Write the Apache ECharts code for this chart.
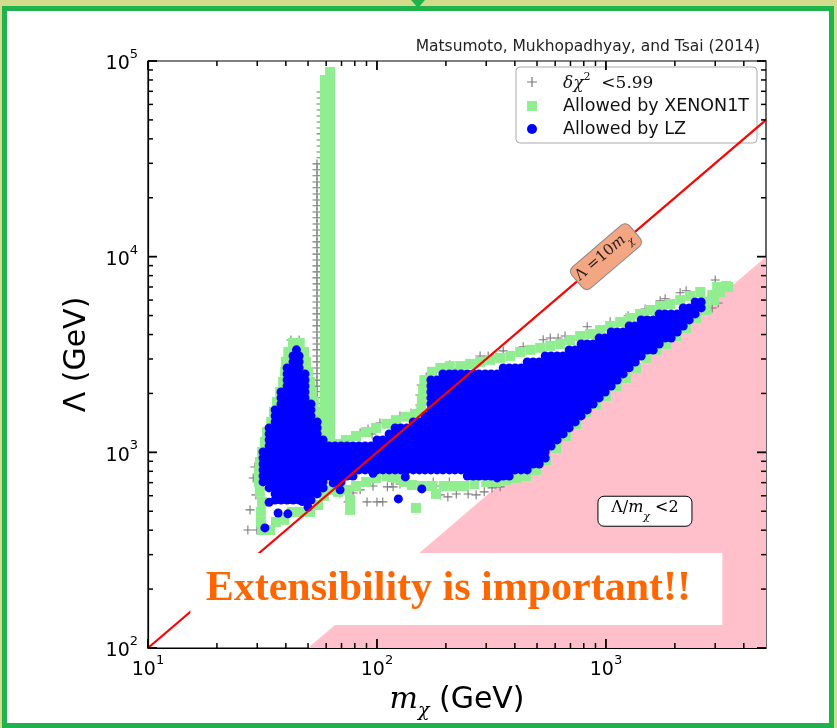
<!DOCTYPE html>
<html><head><meta charset="utf-8">
<script src="https://cdn.jsdelivr.net/npm/echarts@6/dist/echarts.min.js"></script>
<style>html,body{margin:0;padding:0;background:#fff}#c{width:837px;height:728px}</style>
</head><body><div id="c"></div>
<script>
// ---------- axes ----------
const xRange = [10, 5000];
const yRange = [100, 100000];
const xMajorTicks = [10, 100, 1000];
const xMinorTicks = [20, 30, 40, 50, 60, 70, 80, 90, 200, 300, 400, 500, 600, 700, 800, 900, 2000, 3000, 4000];
const yMajorTicks = [100, 1000, 10000, 100000];
const yMinorTicks = [200, 300, 400, 500, 600, 700, 800, 900, 2000, 3000, 4000, 5000, 6000, 7000, 8000, 9000, 20000, 30000, 40000, 50000, 60000, 70000, 80000, 90000];

// ---------- reference lines / regions ----------
const tenLine = [[10, 100], [5000, 50000]];            // Lambda = 10 m
const pinkRegion = [[50, 100], [5000, 10000], [5000, 100]]; // Lambda/m < 2
const lineLabelAt = [1000, 10000];
const ratioLabelAt = [1480, 500];
const bannerAt = [220, 200];

// ---------- series names ----------
const chiName = 'dchi2';
const xenonName = 'Allowed by XENON1T';
const lzName = 'Allowed by LZ';

// ---------- delta chi^2 < 5.99 (grey crosses) ----------
const chiColUpperM = 57.0;
const chiColUpperL = [69400, 64700, 60300, 56200, 52400, 48800, 45500, 42400, 39500, 36800, 34300, 32000];
const chiColLowerM = 54.7;
const chiColLowerL = [29800, 27800, 25900, 24100, 22500, 20900, 19500, 18200, 16900, 15800, 14700, 13700, 12800, 11900, 11100, 10300, 9620, 8970, 8360, 7790, 7260, 6760, 6300, 5870, 5470, 5100, 4750, 4430, 4120, 3840, 3580, 3340, 3110, 2900, 2700, 2520, 2340, 2180, 2040, 1900, 1770, 1650, 1530, 1430, 1330, 1240, 1160];
const chiFringe = [
 [42.1,3750],[45.7,3750],[38.1,2010],[37.3,1850],[34.8,1227],[33.4,1090],[29.3,842],[28.8,740],[29.6,606],[27.9,508],[27.3,401],[29.9,401],
 [69,620],[74.8,558],[78.6,620],[84.4,643],[90.5,558],[100,558],[106,558],[96.1,673],[111,666],[117.6,666],[116,714],[126,689],[137,706],[176,706],[190,673],[207,706],[224,673],[189,606],[204,592],[222,613],[250,613],[271,606],[294,628],[318,658],[345,666],
 [72.5,1157],[77.8,1213],[84.4,1256],[91.4,1317],[95.2,1242],[103,1413],[117.6,1460],[126,1535],[141,1590],[154,1965],[156,2210],[154,1747],[164,2430],[181,2575],[208,2800],[224,2670],[282,3110],[306,3110],[321,3040],[356,3300],[435,3460],[532,3760],[571,3840],[618,3840],[663,3930],[828,4380],[1043,4650],[1250,4990],[1483,5400],[1724,5950],[1814,6090],[2108,6540],[2240,6690],[3000,7600],[2910,5468],[3092,5800]
];

// ---------- allowed by XENON1T (green squares) ----------
const xenonColAM = 62.4;
const xenonColAL = [87900, 80000, 72800, 66300, 60300, 54900, 50000, 45500, 41400, 37700, 34300, 31200, 28400, 25900, 23500, 21400, 19500, 17700, 16100, 14700, 13400, 12200, 11100, 10100, 9180, 8350, 7600, 6920, 6300, 5730, 5220, 4750, 4320, 3930, 3580, 3260, 2970, 2700, 2460, 2240, 2040, 1850, 1690, 1540, 1400, 1270, 1160];
const xenonColBM = 59.3;
const xenonColBL = [80000, 72800, 66300, 60300, 54900, 50000, 45500, 41400, 37700, 34300, 31200, 28400, 25900, 23500, 21400, 19500, 17700, 16100, 14700, 13400, 12200, 11100, 10100, 9180, 8350, 7600, 6920, 6300, 5730, 5220, 4750, 4320, 3930, 3580, 3260, 2970, 2700, 2460, 2240, 2040, 1850, 1690, 1540, 1400, 1270, 1160];
const xenonFringe = [
 [43,3620],[46,3620],[41,3260],[48,3260],[40,2900],[49,2900],[39.7,2580],[50,2580],[38.9,2290],[51,2290],[37.8,2035],[52,2035],[36.6,1810],[53,1810],[35.5,1610],[54.7,1610],[34.5,1430],[55.8,1430],[33.1,1270],[32.4,1130],[31.5,1005],[30.8,893],[30.5,794],[30.5,706],[30.8,628],[31.5,558],[31.1,496],[31.1,441],[31.5,401],[34.1,401],[36.2,441],[39.3,452],[42.6,496],[46.1,496],[51,496],[55.3,538],[58.7,599],[62.4,643],[67.6,628],[74,643],[76.3,571],[76.3,508],[81,673],
 [89.6,706],[99,740],[110,757],[121,740],[131,706],[142,681],[157,673],[174,673],[181,613],[148,520],[196,673],[217,673],[240,673],[266,689],[300,706],[331,706],[366,723],[405,740],[448,757],[496,813],[548,914],[606,1053],[670,1213],[741,1397],[819,1609],[906,1767],[1000,1940],[1110,2180],[1225,2400],[1355,2700],[1500,3040],[1657,3340],[1832,3580],[2026,3930],[2240,4320],[2477,4860],[2740,5340],[2970,6010],[3150,6600],[3350,7090],[3060,7000],[3420,7000],[2910,6360],[2685,5870],
 [2580,6600],[2330,6300],[2110,6010],[1907,5730],[1724,5600],[1559,5340],[1410,5100],[1275,4860],[1153,4640],[1043,4425],[943,4220],[853,4030],[771,3930],[698,3750],[631,3580],[571,3500],[516,3420],[467,3340],[422,3260],[382,3110],[345,3040],[312,2970],[282,2900],[255,2830],[231,2760],[208,2760],[189,2700],[174,2580],[161,2340],[159,2080],[157,1850],[156,1650],[147,1570],[134,1520],[121,1460],[110,1400],[99,1333],[89.6,1270],[81,1213],[73.3,1157],[67.6,1104]
];

// ---------- allowed by LZ (blue dots), rows: [Lambda, m, m, ...] ----------
const lzPeakRows = [
 [3340, 44.5],
 [3110, 43.0, 45.7],
 [2900, 43.0, 45.7],
 [2700, 40.5, 43.0, 45.7],
 [2516, 40.5, 43.0, 45.7, 48.5],
 [2344, 40.5, 43.0, 45.7, 48.5],
 [2184, 40.5, 43.0, 45.7, 48.5],
 [2035, 38.1, 40.5, 43.0, 45.7, 48.5],
 [1897, 38.1, 40.5, 43.0, 45.7, 48.5],
 [1767, 38.1, 40.5, 43.0, 45.7, 48.5, 51.5],
 [1647, 35.9, 38.1, 40.5, 43.0, 45.7, 48.5, 51.5],
 [1535, 35.9, 38.1, 40.5, 43.0, 45.7, 48.5, 51.5],
 [1430, 35.9, 38.1, 40.5, 43.0, 45.7, 48.5, 51.5, 54.8],
 [1333, 33.8, 35.9, 38.1, 40.5, 43.0, 45.7, 48.5, 51.5, 54.8],
 [1242, 33.8, 35.9, 38.1, 40.5, 43.0, 45.7, 48.5, 51.5, 54.8],
 [1157, 33.8, 35.9, 38.1, 40.5, 43.0, 45.7, 48.5, 51.5, 54.8, 58.2],
 [1078, 33.8, 35.9, 38.1, 40.5, 43.0, 45.7, 48.5, 51.5, 54.8, 58.2, 61.8, 65.6, 69.7, 74.0],
 [1005, 31.8, 33.8, 35.9, 38.1, 40.5, 43.0, 45.7, 48.5, 51.5, 54.8, 58.2, 61.8, 65.6],
 [936, 31.8, 33.8, 35.9, 38.1, 40.5, 43.0, 45.7, 48.5, 51.5, 54.8, 58.2, 61.8, 65.6],
 [872, 31.8, 33.8, 35.9, 38.1, 40.5, 43.0, 45.7, 48.5, 51.5, 54.8, 58.2, 61.8, 65.6, 69.7],
 [813, 31.8, 33.8, 35.9, 38.1, 40.5, 43.0, 45.7, 48.5, 51.5, 54.8, 58.2, 61.8, 65.6],
 [757, 31.8, 33.8, 35.9, 38.1, 40.5, 43.0, 45.7, 48.5, 51.5, 54.8, 58.2, 61.8],
 [706, 31.8, 33.8, 35.9, 38.1, 40.5, 43.0, 45.7, 48.5, 51.5, 54.8, 58.2],
 [658, 33.8, 35.9, 38.1, 40.5, 43.0, 45.7, 48.5, 51.5, 54.8, 58.2],
 [613, 35.9, 38.1, 40.5, 43.0, 45.7, 48.5, 51.5, 54.8],
 [571, 35.9, 38.1, 40.5, 43.0, 45.7, 48.5, 51.5]
];
const lzBandRows = [
 [5870, 2453, 2606],
 [5470, 2175, 2310, 2453, 2606],
 [5100, 1708, 1814, 1927, 2047, 2175, 2310, 2453],
 [4750, 1425, 1514, 1608, 1708, 1814, 1927, 2047, 2175, 2310],
 [4425, 1263, 1342, 1425, 1514, 1608, 1708, 1814, 1927, 2047, 2175],
 [4123, 1054, 1119, 1189, 1263, 1342, 1425, 1514, 1608, 1708, 1814, 1927, 2047],
 [3842, 934, 992, 1054, 1119, 1189, 1263, 1342, 1425, 1514, 1608, 1708, 1814, 1927],
 [3580, 779, 828, 879, 934, 992, 1054, 1119, 1189, 1263, 1342, 1425, 1514, 1608, 1708],
 [3336, 691, 734, 779, 828, 879, 934, 992, 1054, 1119, 1189, 1263, 1342, 1425, 1514, 1608],
 [3109, 543, 576, 612, 650, 691, 734, 779, 828, 879, 934, 992, 1054, 1119, 1189, 1263, 1342, 1425],
 [2897, 453, 481, 511, 543, 576, 612, 650, 691, 734, 779, 828, 879, 934, 992, 1054, 1119, 1189, 1263, 1342],
 [2700, 356, 378, 401, 426, 453, 481, 511, 543, 576, 612, 650, 691, 734, 779, 828, 879, 934, 992, 1054, 1119, 1189, 1263],
 [2516, 194, 207, 219, 233, 248, 263, 279, 297, 315, 335, 356, 378, 401, 426, 453, 481, 511, 543, 576, 612, 650, 691, 734, 779, 828, 879, 934, 992, 1054, 1119, 1189],
 [2344, 172, 183, 194, 207, 219, 233, 248, 263, 279, 297, 315, 335, 356, 378, 401, 426, 453, 481, 511, 543, 576, 612, 650, 691, 734, 779, 828, 879, 934, 992, 1054, 1119],
 [2184, 172, 183, 194, 207, 219, 233, 248, 263, 279, 297, 315, 335, 356, 378, 401, 426, 453, 481, 511, 543, 576, 612, 650, 691, 734, 779, 828, 879, 934, 992, 1054],
 [2035, 172, 183, 194, 207, 219, 233, 248, 263, 279, 297, 315, 335, 356, 378, 401, 426, 453, 481, 511, 543, 576, 612, 650, 691, 734, 779, 828, 879, 934, 992],
 [1897, 172, 183, 194, 207, 219, 233, 248, 263, 279, 297, 315, 335, 356, 378, 401, 426, 453, 481, 511, 543, 576, 612, 650, 691, 734, 779, 828, 879, 934],
 [1767, 172, 183, 194, 207, 219, 233, 248, 263, 279, 297, 315, 335, 356, 378, 401, 426, 453, 481, 511, 543, 576, 612, 650, 691, 734, 779, 828, 879],
 [1647, 172, 183, 194, 207, 219, 233, 248, 263, 279, 297, 315, 335, 356, 378, 401, 426, 453, 481, 511, 543, 576, 612, 650, 691, 734, 779, 828],
 [1535, 162, 172, 183, 194, 207, 219, 233, 248, 263, 279, 297, 315, 335, 356, 378, 401, 426, 453, 481, 511, 543, 576, 612, 650, 691, 734, 779],
 [1430, 144, 153, 162, 172, 183, 194, 207, 219, 233, 248, 263, 279, 297, 315, 335, 356, 378, 401, 426, 453, 481, 511, 543, 576, 612, 650, 691, 734],
 [1333, 120, 127, 135, 144, 153, 162, 172, 183, 194, 207, 219, 233, 248, 263, 279, 297, 315, 335, 356, 378, 401, 426, 453, 481, 511, 543, 576, 612, 650, 691],
 [1242, 113, 120, 127, 135, 144, 153, 162, 172, 183, 194, 207, 219, 233, 248, 263, 279, 297, 315, 335, 356, 378, 401, 426, 453, 481, 511, 543, 576, 612, 650],
 [1157, 100, 106, 113, 120, 127, 135, 144, 153, 162, 172, 183, 194, 207, 219, 233, 248, 263, 279, 297, 315, 335, 356, 378, 401, 426, 453, 481, 511, 543, 576, 612],
 [1078, 78.6, 83.5, 88.7, 94.2, 100, 106, 113, 120, 127, 135, 144, 153, 162, 172, 183, 194, 207, 219, 233, 248, 263, 279, 297, 315, 335, 356, 378, 401, 426, 453, 481, 511, 543, 576],
 [1005, 69.7, 74.0, 78.6, 83.5, 88.7, 94.2, 100, 106, 113, 120, 127, 135, 144, 153, 162, 172, 183, 194, 207, 219, 233, 248, 263, 279, 297, 315, 335, 356, 378, 401, 426, 453, 481, 511, 543],
 [936, 69.7, 74.0, 78.6, 83.5, 88.7, 94.2, 100, 106, 113, 120, 127, 135, 144, 153, 162, 172, 183, 194, 207, 219, 233, 248, 263, 279, 297, 315, 335, 356, 378, 401, 426, 453, 481, 511, 543],
 [872, 74.0, 78.6, 83.5, 88.7, 94.2, 100, 106, 113, 120, 127, 135, 144, 153, 162, 172, 183, 194, 207, 219, 233, 248, 263, 279, 297, 315, 335, 356, 378, 401, 426, 453, 481, 511],
 [813, 69.7, 74.0, 78.6, 83.5, 88.7, 94.2, 100, 106, 113, 120, 127, 135, 144, 153, 162, 172, 183, 194, 207, 219, 233, 248, 263, 279, 297, 315, 335, 356, 378, 401, 426, 453],
 [757, 65.6, 69.7, 74.0, 78.6, 248, 263, 279, 297, 315, 335, 356, 378],
 [706, 65.6, 69.7]
];
const lzStray = [[124,578],[157,650],[133,749],[96.1,781],[335,740],[69,643],[64.3,698],[33.8,555],[37.0,490],[40.8,485],[47.2,560],[50.0,525],[32.4,411]];

// ---------- build point lists ----------
function rowsToPoints(rows) { const out = []; rows.forEach(r => { for (let i = 1; i < r.length; i++) out.push([r[i], r[0]]); }); return out; }
function colToPoints(m, ls) { return ls.map(l => [m, l]); }

const chiData = colToPoints(chiColUpperM, chiColUpperL).concat(colToPoints(chiColLowerM, chiColLowerL), chiFringe);
const xenonData = colToPoints(xenonColAM, xenonColAL).concat(colToPoints(xenonColBM, xenonColBL), xenonFringe);
const lzData = rowsToPoints(lzPeakRows).concat(rowsToPoints(lzBandRows), lzStray);

const tickData = []
  .concat(xMajorTicks.map(v => [v, yRange[0], 0, 1]))
  .concat(xMinorTicks.map(v => [v, yRange[0], 0, 0]))
  .concat(yMajorTicks.map(v => [xRange[0], v, 1, 1]))
  .concat(yMinorTicks.map(v => [xRange[0], v, 1, 0]));

function powLabel(v) {
  const e = Math.log10(v), r = Math.round(e);
  if (Math.abs(e - r) > 1e-6) return '';
  return '{b|10}{s|' + r + '}';
}
const labelRich = {
  b: { fontFamily: 'DejaVu Sans', fontSize: 19, lineHeight: 26, color: '#000', verticalAlign: 'bottom' },
  s: { fontFamily: 'DejaVu Sans', fontSize: 13, lineHeight: 14, color: '#000', verticalAlign: 'top' }
};

const PLUS = 'path://M4.4,0H5.6V4.4H10V5.6H5.6V10H4.4V5.6H0V4.4H4.4Z';
const SQUARE = 'path://M0,0H10V10H0Z';

const chart = echarts.init(document.getElementById('c'), null, { renderer: 'canvas' });
chart.setOption({
  animation: false,
  backgroundColor: '#ffffff',
  graphic: [
    { type: 'rect', z: -10, shape: { x: 0, y: 0, width: 837, height: 728 }, style: { fill: '#d3db8c' } },
    { type: 'rect', z: -9, shape: { x: 4.5, y: 8.5, width: 827, height: 717 }, style: { fill: '#ffffff', stroke: '#1fb34b', lineWidth: 5 } },
    { type: 'polygon', z: -8, shape: { points: [[411, 0], [425, 0], [418, 8]] }, style: { fill: '#1fb34b' } }
  ],
  title: {
    text: 'Matsumoto, Mukhopadhyay, and Tsai (2014)',
    right: 72, top: 34,
    textStyle: { fontFamily: 'DejaVu Sans', fontSize: 15.5, fontWeight: 'normal', color: '#222' }
  },
  legend: {
    data: [{ name: chiName, icon: PLUS }, { name: xenonName, icon: SQUARE }, { name: lzName, icon: 'circle' }],
    orient: 'vertical', right: 80, top: 67,
    backgroundColor: '#fff', borderColor: '#aaa', borderWidth: 1, borderRadius: 4,
    padding: [5, 8, 5, 11],
    itemWidth: 24, itemHeight: 10, itemGap: 5,
    selectedMode: false,
    formatter: function (name) { return name === chiName ? '{i|δχ}{p|2}{n|  <5.99}' : name; },
    textStyle: {
      fontFamily: 'DejaVu Sans', fontSize: 17.5, color: '#111', padding: [0, 0, 0, 14],
      rich: {
        i: { fontFamily: 'DejaVu Serif', fontStyle: 'italic', fontSize: 17, lineHeight: 20, verticalAlign: 'bottom', color: '#111' },
        p: { fontFamily: 'DejaVu Serif', fontSize: 11, lineHeight: 12, verticalAlign: 'top', color: '#111' },
        n: { fontFamily: 'DejaVu Serif', fontSize: 17, lineHeight: 20, verticalAlign: 'bottom', color: '#111' }
      }
    }
  },
  grid: { left: 148, right: 71, top: 61, bottom: 80, show: true, borderColor: '#000', borderWidth: 1.2, backgroundColor: 'transparent' },
  xAxis: {
    type: 'log', logBase: 10, min: xRange[0], max: xRange[1],
    axisLine: { show: true, lineStyle: { color: '#000', width: 1.2 } },
    axisTick: { show: false }, splitLine: { show: false },
    axisLabel: { formatter: powLabel, rich: labelRich, margin: 6, showMaxLabel: false },
    name: '{m|m}{s|χ}{n| (GeV)}', nameLocation: 'middle', nameGap: 34,
    nameTextStyle: {
      rich: {
        m: { fontFamily: 'DejaVu Serif', fontStyle: 'italic', fontSize: 30, lineHeight: 36, verticalAlign: 'top', color: '#000' },
        s: { fontFamily: 'DejaVu Serif', fontStyle: 'italic', fontSize: 19, lineHeight: 36, verticalAlign: 'bottom', color: '#000' },
        n: { fontFamily: 'DejaVu Sans', fontSize: 30, lineHeight: 36, verticalAlign: 'top', color: '#000' }
      }
    }
  },
  yAxis: {
    type: 'log', logBase: 10, min: yRange[0], max: yRange[1],
    axisLine: { show: true, lineStyle: { color: '#000', width: 1.2 } },
    axisTick: { show: false }, splitLine: { show: false },
    axisLabel: { formatter: powLabel, rich: labelRich, margin: 10 },
    name: 'Λ (GeV)', nameLocation: 'middle', nameGap: 56,
    nameTextStyle: { fontFamily: 'DejaVu Sans', fontSize: 30, color: '#000' }
  },
  series: [
    {
      type: 'custom', silent: true, z: 1, data: [pinkRegion[0]],
      renderItem: function (params, api) {
        const pts = pinkRegion.map(p => api.coord(p));
        return { type: 'polygon', shape: { points: pts }, style: { fill: '#ffc0cb' } };
      }
    },
    {
      name: chiName, type: 'scatter', z: 2, silent: true, data: chiData,
      symbol: PLUS, symbolSize: 9, itemStyle: { color: '#777', opacity: 1 }
    },
    {
      name: xenonName, type: 'scatter', z: 3, silent: true, data: xenonData,
      symbol: 'rect', symbolSize: 10, itemStyle: { color: '#90ee90', opacity: 1 }
    },
    {
      name: lzName, type: 'scatter', z: 4, silent: true, data: lzData,
      symbol: 'circle', symbolSize: 9, itemStyle: { color: '#0000ff', opacity: 1 }
    },
    {
      type: 'line', z: 5, silent: true, data: tenLine, symbol: 'none',
      lineStyle: { color: '#ff0000', width: 2.2 }
    },
    {
      type: 'custom', z: 6, silent: true, data: [lineLabelAt],
      renderItem: function (params, api) {
        const c = api.coord([api.value(0), api.value(1)]);
        const p0 = api.coord(tenLine[0]), p1 = api.coord(tenLine[1]);
        const ang = Math.atan2(p0[1] - p1[1], p1[0] - p0[0]);
        return {
          type: 'group', x: c[0], y: c[1], rotation: ang, children: [
            { type: 'rect', shape: { x: -38, y: -14, width: 76, height: 28, r: 6 }, style: { fill: '#f4a582', stroke: '#888', lineWidth: 1 } },
            { type: 'text', style: { text: '{a|Λ =10}{m|m}{s|χ}', x: -2, y: 0, align: 'center', verticalAlign: 'middle',
              rich: {
                a: { fontFamily: 'DejaVu Serif', fontSize: 15, lineHeight: 20, verticalAlign: 'top', fill: '#222' },
                m: { fontFamily: 'DejaVu Serif', fontStyle: 'italic', fontSize: 15, lineHeight: 20, verticalAlign: 'top', fill: '#222' },
                s: { fontFamily: 'DejaVu Serif', fontStyle: 'italic', fontSize: 10, lineHeight: 20, verticalAlign: 'bottom', fill: '#222' }
              } } }
          ]
        };
      }
    },
    {
      type: 'custom', z: 6, silent: true, data: [ratioLabelAt],
      renderItem: function (params, api) {
        const c = api.coord([api.value(0), api.value(1)]);
        return {
          type: 'group', x: c[0], y: c[1], children: [
            { type: 'rect', shape: { x: -47, y: -15, width: 94, height: 30, r: 6 }, style: { fill: '#fff', stroke: '#000', lineWidth: 1 } },
            { type: 'text', style: { text: '{a|Λ/}{m|m}{s|χ}{a| <2}', x: 0, y: 0, align: 'center', verticalAlign: 'middle',
              rich: {
                a: { fontFamily: 'DejaVu Serif', fontSize: 16, lineHeight: 22, verticalAlign: 'top', fill: '#000' },
                m: { fontFamily: 'DejaVu Serif', fontStyle: 'italic', fontSize: 16, lineHeight: 22, verticalAlign: 'top', fill: '#000' },
                s: { fontFamily: 'DejaVu Serif', fontStyle: 'italic', fontSize: 11, lineHeight: 22, verticalAlign: 'bottom', fill: '#000' }
              } } }
          ]
        };
      }
    },
    {
      type: 'custom', z: 7, silent: true, data: [bannerAt],
      renderItem: function (params, api) {
        const c = api.coord([api.value(0), api.value(1)]);
        return {
          type: 'group', x: c[0], y: c[1], children: [
            { type: 'rect', shape: { x: -265, y: -36, width: 532, height: 72 }, style: { fill: '#fff' } },
            { type: 'text', style: { text: 'Extensibility is important!!', x: -7, y: 0, align: 'center', verticalAlign: 'middle',
              font: 'bold 42px "Liberation Serif", "Times New Roman", serif', fill: '#ff6600' } }
          ]
        };
      }
    },
    {
      type: 'custom', z: 8, silent: true, clip: false, data: tickData,
      renderItem: function (params, api) {
        const kind = api.value(2), major = api.value(3);
        const len = major ? 9 : 5;
        const st = { stroke: '#000', lineWidth: major ? 1.8 : 1.5 };
        if (kind === 0) {
          const v = api.value(0);
          const b = api.coord([v, yRange[0]]), t = api.coord([v, yRange[1]]);
          return { type: 'group', children: [
            { type: 'line', shape: { x1: b[0], y1: b[1], x2: b[0], y2: b[1] - len }, style: st },
            { type: 'line', shape: { x1: t[0], y1: t[1], x2: t[0], y2: t[1] + len }, style: st } ] };
        } else {
          const v = api.value(1);
          const l = api.coord([xRange[0], v]), r = api.coord([xRange[1], v]);
          return { type: 'group', children: [
            { type: 'line', shape: { x1: l[0], y1: l[1], x2: l[0] + len, y2: l[1] }, style: st },
            { type: 'line', shape: { x1: r[0], y1: r[1], x2: r[0] - len, y2: r[1] }, style: st } ] };
        }
      }
    }
  ]
});
</script></body></html>
